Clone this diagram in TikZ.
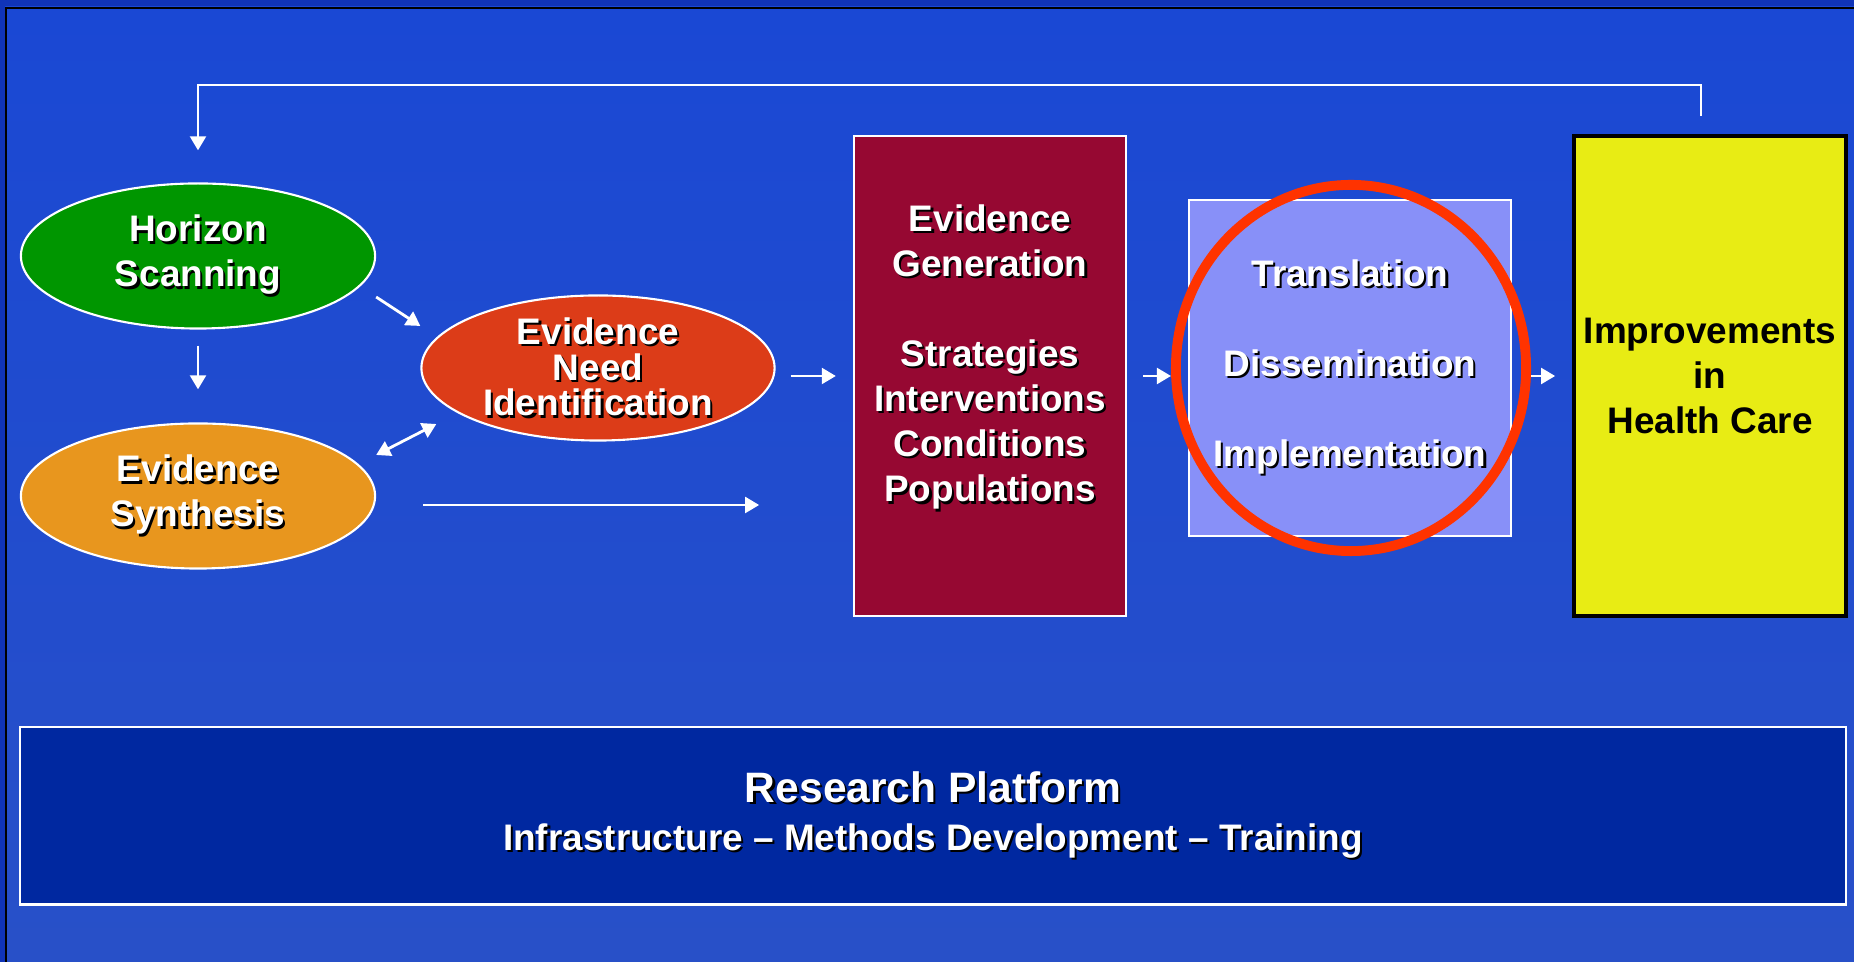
\documentclass[tikz,border=0pt]{standalone}
\usepackage{fontspec}
\setmainfont{Liberation Sans}
\usetikzlibrary{shapes.geometric,arrows.meta,positioning}

\definecolor{bgtop}{RGB}{26,72,212}
\definecolor{bgmid}{RGB}{34,96,222}
\definecolor{bgbot}{RGB}{40,80,200}
\definecolor{bgedge}{RGB}{16,52,184}
\definecolor{scangreen}{RGB}{0,150,0}
\definecolor{synthorange}{RGB}{232,150,30}
\definecolor{needred}{RGB}{220,60,24}
\definecolor{genmaroon}{RGB}{150,8,50}
\definecolor{translilac}{RGB}{136,144,248}
\definecolor{ringred}{RGB}{255,51,0}
\definecolor{careyellow}{RGB}{232,236,20}
\definecolor{platformblue}{RGB}{0,40,160}

% white text with a small black drop shadow
\newcommand{\shd}[1]{\makebox[0pt][l]{\hspace{0.6pt}\raisebox{-0.6pt}{\color{black}#1}}#1}

\begin{document}
\begin{tikzpicture}[
    x=0.01cm, y=-0.01cm,
    every node/.style={font=\fontsize{10.5}{12.8}\selectfont\bfseries, text=white, align=center, inner sep=0pt},
    blob/.style={ellipse, draw=white, line width=0.6pt, minimum width=3.54cm, minimum height=1.45cm},
    box/.style={rectangle, draw=white, line width=0.6pt},
    arrow/.style={-{Triangle[width=4.5pt,length=4pt]}, white, line width=0.8pt},
    darrow/.style={arrow, {Triangle[width=4.5pt,length=4pt]}-{Triangle[width=4.5pt,length=4pt]}}
]
% background
\shade[top color=bgtop, middle color=bgmid, bottom color=bgbot] (0,0) rectangle (1854,962);
\useasboundingbox (0,0) rectangle (1854,962);
\fill[bgedge] (0,0) rectangle (1854,6) (0,0) rectangle (5,962);
\draw[black, line width=0.6pt] (6,962) |- (1854,8);

% left part
\node[blob, fill=scangreen] (scan) at (198,256) {\shd{Horizon}\\\shd{Scanning}};
\node[blob, fill=synthorange] (synth) at (198,496) {\shd{Evidence}\\\shd{Synthesis}};
\node[blob, fill=needred, minimum width=3.53cm, font=\fontsize{10.5}{10.2}\selectfont\bfseries] (need) at (598,368)
    {\shd{Evidence}\\\shd{Need}\\\shd{Identification}};

% boxes
\node[box, fill=genmaroon, minimum width=2.72cm, minimum height=4.80cm] (gen) at (990,376)
    {\shd{Evidence}\\\shd{Generation}\\\mbox{}\\\shd{Strategies}\\\shd{Interventions}\\\shd{Conditions}\\\shd{Populations}\\\mbox{}};
\node[box, fill=translilac, minimum width=3.21cm, minimum height=3.36cm] (trans) at (1350,368)
    {\shd{Translation}\\\mbox{}\\\shd{Dissemination}\\\mbox{}\\\shd{Implementation}};
\node[ellipse, draw=ringred, line width=2.8pt, minimum width=3.50cm, minimum height=3.66cm] (ring) at (1351,368) {};
\node[rectangle, draw=black, line width=1pt, fill=careyellow, text=black, minimum width=2.72cm, minimum height=4.80cm] (improve) at (1710,376)
    {Improvements\\in\\Health Care};
\node[box, fill=platformblue, minimum width=18.25cm, minimum height=1.77cm] (platform) at (933,816)
    {{\fontsize{12.1}{14}\selectfont\shd{Research Platform}}\\[0.6pt]\shd{Infrastructure – Methods Development – Training}};

% connectors
\draw[arrow] ([xshift=-0.09cm,yshift=0.18cm]improve.north) -- ++(0,-31) -| ([yshift=0.32cm]scan.north);
\draw[arrow, shorten <=0.16cm, shorten >=0.33cm] (scan.south) -- (synth.north);
\draw[arrow] ([yshift=-0.41cm]scan.east) -- ([yshift=0.42cm]need.west);
\draw[darrow] ([yshift=0.41cm]synth.east) -- ([shift={(0.16cm,-0.56cm)}]need.west);
\draw[arrow] ([shift={(0.47cm,-0.09cm)}]synth.east) -- ++(336,0);
\draw[arrow, shorten <=0.15cm, shorten >=0.17cm] (need.east |- gen.west) -- (gen.west);
\draw[arrow, shorten <=0.16cm] (gen.east) -- (gen.east -| ring.west);
\draw[arrow, shorten >=0.17cm] (ring.east |- improve.west) -- (improve.west);
\end{tikzpicture}
\end{document}
